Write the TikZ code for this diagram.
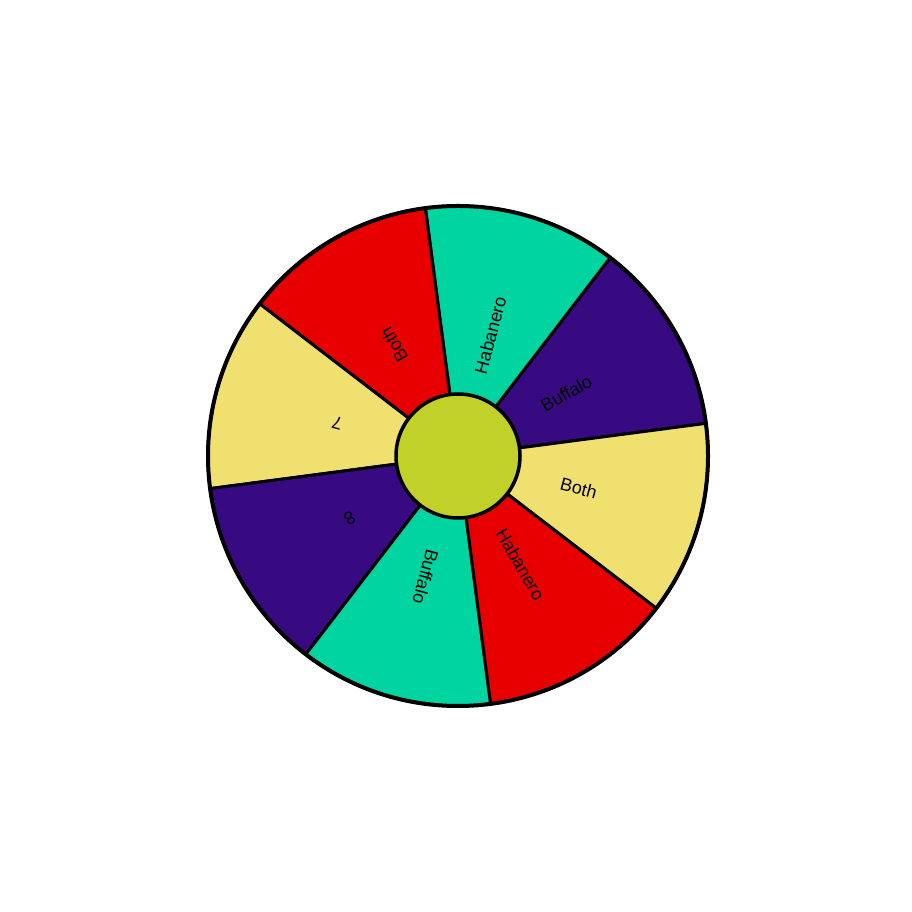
\documentclass[tikz,border=0pt]{standalone}
\usepackage{fontspec}
\setmainfont{Liberation Sans}
\usetikzlibrary{calc}
\definecolor{wpurple}{RGB}{56,10,130}
\definecolor{wteal}{RGB}{0,212,160}
\definecolor{wred}{RGB}{232,0,0}
\definecolor{wyellow}{RGB}{240,224,112}
\definecolor{wgreen}{RGB}{194,208,42}
\tikzset{
  sector/.style={draw=black,line width=3pt,line join=round},
  lbl/.style={font=\fontsize{18}{20}\selectfont,text=black,inner sep=0pt}
}
\begin{document}
\begin{tikzpicture}[x=1pt,y=1pt]
\useasboundingbox (0,0) rectangle (912,912);
\fill[white] (0,0) rectangle (912,912);
\coordinate (c) at (458,456);
\def\R{250}
\foreach \a/\col in {7.5/wpurple,52.5/wteal,97.5/wred,142.5/wyellow,187.5/wpurple,232.5/wteal,277.5/wred,322.5/wyellow}{
  \pgfmathsetmacro{\b}{\a+45}
  \filldraw[sector,fill=\col] (c) -- ++(\a:\R) arc[start angle=\a,end angle=\b,radius=\R] -- cycle;
}
\draw[line width=4pt] (c) circle[radius=\R];
\node[circle,draw=black,fill=wgreen,line width=3.5pt,minimum size=124pt,inner sep=0pt] (hub) at (c) {};
\node[lbl,rotate=30]  (l1) at ($(c)+(30:125)$)  {Buffalo};
\node[lbl,rotate=75]  (l2) at ($(c)+(75:125)$)  {Habanero};
\node[lbl,rotate=120] (l3) at ($(c)+(120:128)$) {Both};
\node[lbl,rotate=165] (l4) at ($(c)+(165:125)$) {7};
\node[lbl,rotate=210] (l5) at ($(c)+(210:125)$) {8};
\node[lbl,rotate=255] (l6) at ($(c)+(255:125)$) {Buffalo};
\node[lbl,rotate=300] (l7) at ($(c)+(300:125)$) {Habanero};
\node[lbl,rotate=345] (l8) at ($(c)+(345:125)$) {Both};
\end{tikzpicture}
\end{document}
